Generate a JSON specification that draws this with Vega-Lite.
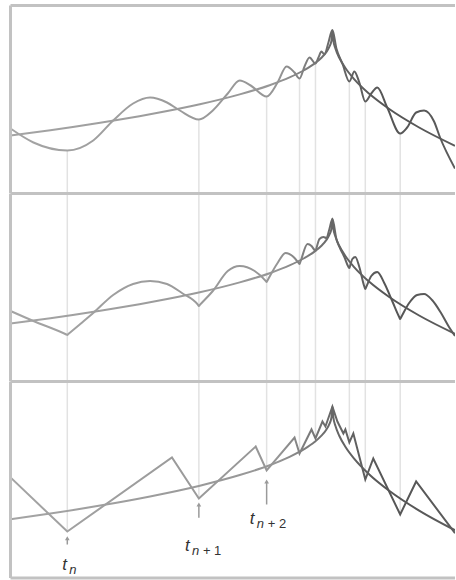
{
  "$schema": "https://vega.github.io/schema/vega-lite/v6.json",
  "padding": {"left": 8.5, "top": 3.5, "right": 0, "bottom": 0},
  "spacing": 0,
  "bounds": "flush",
  "config": {"view": {"stroke": null}},
  "datasets": {
    "trend": [
      {"t": 0, "p": 57.4}, {"t": 40, "p": 62.7}, {"t": 90, "p": 70.2}, {"t": 140, "p": 78.7},
      {"t": 190, "p": 88.7}, {"t": 230, "p": 98.6}, {"t": 260, "p": 107.8}, {"t": 280, "p": 115.6},
      {"t": 295, "p": 123.0}, {"t": 305, "p": 129.4}, {"t": 312, "p": 135.3}, {"t": 317, "p": 141.1},
      {"t": 320, "p": 146.3}, {"t": 322, "p": 152.1}, {"t": 323, "p": 162.5}, {"t": 324, "p": 152.1},
      {"t": 326, "p": 144.5}, {"t": 330, "p": 135.0}, {"t": 336, "p": 125.0}, {"t": 345, "p": 113.7},
      {"t": 360, "p": 99.2}, {"t": 380, "p": 84.0}, {"t": 410, "p": 65.5}, {"t": 446, "p": 47.2}
    ],
    "osc": [
      {"panel": 1, "t": 0, "p": 64.5}, {"panel": 1, "t": 23, "p": 50.5}, {"panel": 1, "t": 57, "p": 42.5},
      {"panel": 1, "t": 83, "p": 52.5}, {"panel": 1, "t": 103, "p": 72.5}, {"panel": 1, "t": 123, "p": 89.5},
      {"panel": 1, "t": 140, "p": 95.5}, {"panel": 1, "t": 157, "p": 90.5}, {"panel": 1, "t": 170, "p": 82.5},
      {"panel": 1, "t": 189, "p": 73.5}, {"panel": 1, "t": 203, "p": 82.5}, {"panel": 1, "t": 218, "p": 99.5},
      {"panel": 1, "t": 230, "p": 112.5}, {"panel": 1, "t": 241, "p": 107.5}, {"panel": 1, "t": 257, "p": 96.5},
      {"panel": 1, "t": 268, "p": 110.5}, {"panel": 1, "t": 277, "p": 126.5}, {"panel": 1, "t": 285, "p": 120.5},
      {"panel": 1, "t": 290, "p": 114.5}, {"panel": 1, "t": 295, "p": 126.5}, {"panel": 1, "t": 300, "p": 135.5},
      {"panel": 1, "t": 306, "p": 129.5}, {"panel": 1, "t": 309, "p": 135.5}, {"panel": 1, "t": 312, "p": 141.5},
      {"panel": 1, "t": 315, "p": 138.5}, {"panel": 1, "t": 319, "p": 150.5}, {"panel": 1, "t": 323, "p": 163},
      {"panel": 1, "t": 327, "p": 144.5}, {"panel": 1, "t": 333, "p": 129.5}, {"panel": 1, "t": 340, "p": 111.5},
      {"panel": 1, "t": 345, "p": 121.5}, {"panel": 1, "t": 350, "p": 110.5}, {"panel": 1, "t": 356, "p": 91.5},
      {"panel": 1, "t": 362, "p": 99.5}, {"panel": 1, "t": 368, "p": 105.5}, {"panel": 1, "t": 378, "p": 85.5},
      {"panel": 1, "t": 391, "p": 59.5}, {"panel": 1, "t": 398, "p": 65.5}, {"panel": 1, "t": 407, "p": 80.5},
      {"panel": 1, "t": 415, "p": 82.5}, {"panel": 1, "t": 425, "p": 71.5}, {"panel": 1, "t": 431, "p": 55.5},
      {"panel": 1, "t": 446, "p": 24.5},

      {"panel": 2, "t": 0, "p": 70}, {"panel": 2, "t": 23, "p": 60}, {"panel": 2, "t": 56, "p": 46.5},
      {"panel": 2, "t": 57, "p": 46}, {"panel": 2, "t": 58, "p": 46.9}, {"panel": 2, "t": 70, "p": 57},
      {"panel": 2, "t": 83, "p": 68}, {"panel": 2, "t": 103, "p": 86}, {"panel": 2, "t": 123, "p": 97},
      {"panel": 2, "t": 140, "p": 100}, {"panel": 2, "t": 157, "p": 97}, {"panel": 2, "t": 172, "p": 88},
      {"panel": 2, "t": 188, "p": 76.3}, {"panel": 2, "t": 189, "p": 75}, {"panel": 2, "t": 190, "p": 76.1},
      {"panel": 2, "t": 203, "p": 90}, {"panel": 2, "t": 218, "p": 110}, {"panel": 2, "t": 230, "p": 115},
      {"panel": 2, "t": 245, "p": 110}, {"panel": 2, "t": 256, "p": 100.2}, {"panel": 2, "t": 257, "p": 99},
      {"panel": 2, "t": 258, "p": 100.8}, {"panel": 2, "t": 268, "p": 118}, {"panel": 2, "t": 276, "p": 128},
      {"panel": 2, "t": 284, "p": 124}, {"panel": 2, "t": 289, "p": 118.2}, {"panel": 2, "t": 290, "p": 117},
      {"panel": 2, "t": 291, "p": 119.5}, {"panel": 2, "t": 298, "p": 137}, {"panel": 2, "t": 302, "p": 135},
      {"panel": 2, "t": 305, "p": 131}, {"panel": 2, "t": 306, "p": 130}, {"panel": 2, "t": 307, "p": 133},
      {"panel": 2, "t": 310, "p": 142}, {"panel": 2, "t": 314, "p": 144}, {"panel": 2, "t": 317, "p": 143},
      {"panel": 2, "t": 320, "p": 152}, {"panel": 2, "t": 323, "p": 162}, {"panel": 2, "t": 327, "p": 142},
      {"panel": 2, "t": 331, "p": 132}, {"panel": 2, "t": 335, "p": 124}, {"panel": 2, "t": 339, "p": 114.2},
      {"panel": 2, "t": 340, "p": 113}, {"panel": 2, "t": 341, "p": 116}, {"panel": 2, "t": 343, "p": 122},
      {"panel": 2, "t": 346, "p": 124}, {"panel": 2, "t": 350, "p": 114}, {"panel": 2, "t": 355, "p": 94.5},
      {"panel": 2, "t": 356, "p": 92}, {"panel": 2, "t": 357, "p": 94.2}, {"panel": 2, "t": 362, "p": 105},
      {"panel": 2, "t": 368, "p": 109}, {"panel": 2, "t": 375, "p": 98}, {"panel": 2, "t": 383, "p": 80},
      {"panel": 2, "t": 390, "p": 64}, {"panel": 2, "t": 391, "p": 62}, {"panel": 2, "t": 392, "p": 63.8},
      {"panel": 2, "t": 400, "p": 78}, {"panel": 2, "t": 408, "p": 86}, {"panel": 2, "t": 415, "p": 87},
      {"panel": 2, "t": 423, "p": 81}, {"panel": 2, "t": 432, "p": 68}, {"panel": 2, "t": 440, "p": 54},
      {"panel": 2, "t": 446, "p": 45},

      {"panel": 3, "t": 0, "p": 96.4}, {"panel": 3, "t": 57, "p": 46.0}, {"panel": 3, "t": 162, "p": 115.0},
      {"panel": 3, "t": 189, "p": 76.8}, {"panel": 3, "t": 246, "p": 125.2}, {"panel": 3, "t": 257, "p": 102.9},
      {"panel": 3, "t": 285, "p": 133.6}, {"panel": 3, "t": 290, "p": 118.7}, {"panel": 3, "t": 302, "p": 141.1},
      {"panel": 3, "t": 306, "p": 132.7}, {"panel": 3, "t": 313, "p": 148.5}, {"panel": 3, "t": 316, "p": 143.9},
      {"panel": 3, "t": 323, "p": 162.5}, {"panel": 3, "t": 328, "p": 148.5}, {"panel": 3, "t": 334, "p": 137.4},
      {"panel": 3, "t": 336, "p": 141.1}, {"panel": 3, "t": 340, "p": 129.0}, {"panel": 3, "t": 344, "p": 137.4},
      {"panel": 3, "t": 356, "p": 94.5}, {"panel": 3, "t": 364, "p": 114.1}, {"panel": 3, "t": 391, "p": 61.9},
      {"panel": 3, "t": 407, "p": 92.6}, {"panel": 3, "t": 446, "p": 44.5}
    ],
    "vlines": [
      {"t": 57, "p1": 42.5, "p3": 46.0}, {"t": 189, "p1": 73.5, "p3": 76.8},
      {"t": 257, "p1": 96.5, "p3": 102.9}, {"t": 290, "p1": 114.5, "p3": 118.7},
      {"t": 306, "p1": 129.5, "p3": 132.7}, {"t": 340, "p1": 111.5, "p3": 129.0},
      {"t": 356, "p1": 91.5, "p3": 94.5}, {"t": 391, "p1": 59.5, "p3": 61.9}
    ],
    "arrows": [
      {"t": 57, "base": 33.9, "tip": 39.8},
      {"t": 189, "base": 58.8, "tip": 71.2},
      {"t": 257, "base": 71.2, "tip": 92.6}
    ],
    "labels": [
      {"t": 52, "p": 10.6, "main": "t", "sub": "n", "rest": ""},
      {"t": 175, "p": 27.4, "main": "t", "sub": "n", "rest": "+ 1"},
      {"t": 240, "p": 52.6, "main": "t", "sub": "n", "rest": "+ 2"}
    ],
    "one": [{}]
  },
  "vconcat": [
    {
      "width": 444.5,
      "height": 187.5,
      "layer": [
        {
          "data": {"name": "vlines"},
          "mark": {"type": "rule", "color": "#e2e2e2", "strokeWidth": 1.5},
          "encoding": {
            "x": {"field": "t", "type": "quantitative", "scale": {"domain": [0, 446], "nice": false, "zero": false}, "axis": null},
            "y": {"field": "p1", "type": "quantitative", "scale": {"domain": [0, 187.5], "nice": false, "zero": false}, "axis": null},
            "y2": {"datum": 0}
          }
        },
        {
          "data": {"name": "trend"},
          "mark": {"type": "line", "interpolate": "monotone", "strokeWidth": 2, "clip": true,
            "color": {"gradient": "linear", "x1": 0, "y1": 0, "x2": 1, "y2": 0,
              "stops": [{"offset": 0, "color": "#a4a4a4"}, {"offset": 0.6, "color": "#969696"}, {"offset": 0.72, "color": "#686868"}, {"offset": 0.85, "color": "#555555"}, {"offset": 1, "color": "#5c5c5c"}]}},
          "encoding": {
            "x": {"field": "t", "type": "quantitative", "axis": null},
            "y": {"field": "p", "type": "quantitative", "axis": null}
          }
        },
        {
          "data": {"name": "osc"},
          "transform": [{"filter": "datum.panel == 1"}],
          "mark": {"type": "line", "interpolate": "monotone", "strokeWidth": 2, "clip": true,
            "color": {"gradient": "linear", "x1": 0, "y1": 0, "x2": 1, "y2": 0,
              "stops": [{"offset": 0, "color": "#a4a4a4"}, {"offset": 0.6, "color": "#969696"}, {"offset": 0.72, "color": "#686868"}, {"offset": 0.85, "color": "#555555"}, {"offset": 1, "color": "#5c5c5c"}]}},
          "encoding": {
            "x": {"field": "t", "type": "quantitative", "axis": null},
            "y": {"field": "p", "type": "quantitative", "axis": null}
          }
        },
        {
          "data": {"name": "one"},
          "mark": {"type": "rule", "color": "#c2c2c2", "strokeWidth": 3},
          "encoding": {"y": {"datum": 187.5}}
        },
        {
          "data": {"name": "one"},
          "mark": {"type": "rule", "color": "#c2c2c2", "strokeWidth": 3},
          "encoding": {"x": {"datum": 0}}
        }
      ]
    },
    {
      "width": 444.5,
      "height": 187.5,
      "layer": [
        {
          "data": {"name": "vlines"},
          "mark": {"type": "rule", "color": "#e2e2e2", "strokeWidth": 1.5},
          "encoding": {
            "x": {"field": "t", "type": "quantitative", "scale": {"domain": [0, 446], "nice": false, "zero": false}, "axis": null}
          }
        },
        {
          "data": {"name": "trend"},
          "mark": {"type": "line", "interpolate": "monotone", "strokeWidth": 2, "clip": true,
            "color": {"gradient": "linear", "x1": 0, "y1": 0, "x2": 1, "y2": 0,
              "stops": [{"offset": 0, "color": "#a4a4a4"}, {"offset": 0.6, "color": "#969696"}, {"offset": 0.72, "color": "#686868"}, {"offset": 0.85, "color": "#555555"}, {"offset": 1, "color": "#5c5c5c"}]}},
          "encoding": {
            "x": {"field": "t", "type": "quantitative", "axis": null},
            "y": {"field": "p", "type": "quantitative", "scale": {"domain": [0, 187.5], "nice": false, "zero": false}, "axis": null}
          }
        },
        {
          "data": {"name": "osc"},
          "transform": [{"filter": "datum.panel == 2"}],
          "mark": {"type": "line", "interpolate": "monotone", "strokeWidth": 2, "clip": true,
            "color": {"gradient": "linear", "x1": 0, "y1": 0, "x2": 1, "y2": 0,
              "stops": [{"offset": 0, "color": "#a4a4a4"}, {"offset": 0.6, "color": "#969696"}, {"offset": 0.72, "color": "#686868"}, {"offset": 0.85, "color": "#555555"}, {"offset": 1, "color": "#5c5c5c"}]}},
          "encoding": {
            "x": {"field": "t", "type": "quantitative", "axis": null},
            "y": {"field": "p", "type": "quantitative", "axis": null}
          }
        },
        {
          "data": {"name": "one"},
          "mark": {"type": "rule", "color": "#c2c2c2", "strokeWidth": 3},
          "encoding": {"y": {"datum": 187.5}}
        },
        {
          "data": {"name": "one"},
          "mark": {"type": "rule", "color": "#c2c2c2", "strokeWidth": 3},
          "encoding": {"x": {"datum": 0}}
        }
      ]
    },
    {
      "width": 444.5,
      "height": 196.5,
      "layer": [
        {
          "data": {"name": "vlines"},
          "mark": {"type": "rule", "color": "#e2e2e2", "strokeWidth": 1.5},
          "encoding": {
            "x": {"field": "t", "type": "quantitative", "scale": {"domain": [0, 446], "nice": false, "zero": false}, "axis": null},
            "y": {"field": "p3", "type": "quantitative", "scale": {"domain": [2.7, 185.8], "nice": false, "zero": false}, "axis": null},
            "y2": {"datum": 185.8}
          }
        },
        {
          "data": {"name": "trend"},
          "mark": {"type": "line", "interpolate": "monotone", "strokeWidth": 2, "clip": true,
            "color": {"gradient": "linear", "x1": 0, "y1": 0, "x2": 1, "y2": 0,
              "stops": [{"offset": 0, "color": "#a4a4a4"}, {"offset": 0.6, "color": "#969696"}, {"offset": 0.72, "color": "#686868"}, {"offset": 0.85, "color": "#555555"}, {"offset": 1, "color": "#5c5c5c"}]}},
          "encoding": {
            "x": {"field": "t", "type": "quantitative", "axis": null},
            "y": {"field": "p", "type": "quantitative", "axis": null}
          }
        },
        {
          "data": {"name": "osc"},
          "transform": [{"filter": "datum.panel == 3"}],
          "mark": {"type": "line", "interpolate": "linear", "strokeWidth": 2, "clip": true,
            "color": {"gradient": "linear", "x1": 0, "y1": 0, "x2": 1, "y2": 0,
              "stops": [{"offset": 0, "color": "#a4a4a4"}, {"offset": 0.6, "color": "#969696"}, {"offset": 0.72, "color": "#686868"}, {"offset": 0.85, "color": "#555555"}, {"offset": 1, "color": "#5c5c5c"}]}},
          "encoding": {
            "x": {"field": "t", "type": "quantitative", "axis": null},
            "y": {"field": "p", "type": "quantitative", "axis": null}
          }
        },
        {
          "data": {"name": "arrows"},
          "mark": {"type": "rule", "color": "#9a9a9a", "strokeWidth": 1.5},
          "encoding": {
            "x": {"field": "t", "type": "quantitative", "axis": null},
            "y": {"field": "base", "type": "quantitative", "axis": null},
            "y2": {"field": "tip"}
          }
        },
        {
          "data": {"name": "arrows"},
          "mark": {"type": "point", "shape": "triangle-up", "filled": true, "color": "#9a9a9a", "size": 22, "opacity": 1},
          "encoding": {
            "x": {"field": "t", "type": "quantitative", "axis": null},
            "y": {"field": "tip", "type": "quantitative", "axis": null}
          }
        },
        {
          "data": {"name": "labels"},
          "mark": {"type": "text", "font": "Liberation Sans", "fontStyle": "italic", "fontSize": 17, "align": "left", "baseline": "alphabetic", "color": "#333333"},
          "encoding": {
            "x": {"field": "t", "type": "quantitative", "axis": null},
            "y": {"field": "p", "type": "quantitative", "axis": null},
            "text": {"field": "main"}
          }
        },
        {
          "data": {"name": "labels"},
          "mark": {"type": "text", "font": "Liberation Sans", "fontStyle": "italic", "fontSize": 13, "align": "left", "baseline": "alphabetic", "dx": 7, "dy": 4, "color": "#333333"},
          "encoding": {
            "x": {"field": "t", "type": "quantitative", "axis": null},
            "y": {"field": "p", "type": "quantitative", "axis": null},
            "text": {"field": "sub"}
          }
        },
        {
          "data": {"name": "labels"},
          "mark": {"type": "text", "font": "Liberation Sans", "fontSize": 13, "align": "left", "baseline": "alphabetic", "dx": 18, "dy": 4, "color": "#333333"},
          "encoding": {
            "x": {"field": "t", "type": "quantitative", "axis": null},
            "y": {"field": "p", "type": "quantitative", "axis": null},
            "text": {"field": "rest"}
          }
        },
        {
          "data": {"name": "one"},
          "mark": {"type": "rule", "color": "#c2c2c2", "strokeWidth": 3},
          "encoding": {"y": {"datum": 185.8}}
        },
        {
          "data": {"name": "one"},
          "mark": {"type": "rule", "color": "#c2c2c2", "strokeWidth": 3},
          "encoding": {"y": {"datum": 2.7}}
        },
        {
          "data": {"name": "one"},
          "mark": {"type": "rule", "color": "#c2c2c2", "strokeWidth": 3},
          "encoding": {"x": {"datum": 0}}
        }
      ]
    }
  ]
}
